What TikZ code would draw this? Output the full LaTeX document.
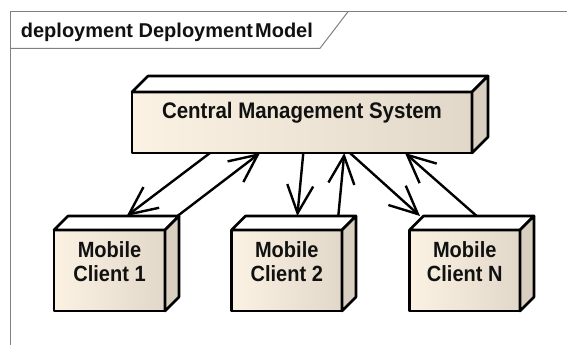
\documentclass[tikz,border=0pt]{standalone}
\usepackage{fontspec}
\setmainfont{Liberation Sans}
\newfontfamily\nodefont[FakeStretch=0.91]{Liberation Sans}
\usetikzlibrary{arrows.meta,calc}
\definecolor{frontL}{HTML}{FBF2E4}
\definecolor{frontM}{HTML}{F5EBDC}
\definecolor{frontR}{HTML}{E2D8C9}
\definecolor{sidecol}{HTML}{D9CFC1}
\definecolor{framecol}{HTML}{808080}
\definecolor{txt}{HTML}{111111}
\begin{document}
\begin{tikzpicture}[x=1pt,y=-1pt,
  face/.style={draw=black, line width=2.6pt, line join=round,
    left color=frontL, middle color=frontM, right color=frontR,
    inner sep=0pt, outer sep=0pt, anchor=north west, text=txt,
    font=\nodefont\bfseries\fontsize{22}{24.4}\selectfont},
  topface/.style={draw=black, line width=2.6pt, line join=round, fill=white},
  sideface/.style={draw=black, line width=2.6pt, line join=round, fill=sidecol},
  conn/.style={draw=black, line width=2.4pt, -{Straight Barb[length=28pt,width=26pt]}},
  framebox/.style={draw=framecol, line width=1pt},
]
\useasboundingbox (0,0) rectangle (567,345);

% frame
\draw[framebox] (10.7,345) -- (10.7,11.7) -- (567,11.7);
\draw[framebox] (10.7,48.3) -- (320,48.3) -- (348,11.7);
\node[anchor=base west, inner sep=0pt, text=txt, font=\bfseries\fontsize{20}{24}\selectfont] (title) at (20.7,37.3) {deployment Deployment\kern2pt Model};

% central node
\node[face, font=\nodefont\bfseries\fontsize{22.5}{24.4}\selectfont] (cms) at (132,92)
  {\parbox[c][61pt][t]{340pt}{\centering\vspace*{10pt}Central Management System}};
\path[topface] (cms.north west) -- ++(16,-16) -- ([shift={(16,-16)}]cms.north east) -- (cms.north east) -- cycle;
\path[sideface] (cms.north east) -- ++(16,-16) -- ([shift={(16,-16)}]cms.south east) -- (cms.south east) -- cycle;

% clients
\node[face] (c1) at (54,230)
  {\parbox[c][81pt][t]{111pt}{\centering\vspace*{11.3pt}Mobile\\Client 1}};
\node[face] (c2) at (231.5,230)
  {\parbox[c][81pt][t]{110.5pt}{\centering\vspace*{11.3pt}Mobile\\Client 2}};
\node[face] (cN) at (409.5,230)
  {\parbox[c][81pt][t]{110.5pt}{\centering\vspace*{11.3pt}Mobile\\Client N}};
\foreach \n in {c1,c2,cN}{
  \path[topface] (\n.north west) -- ++(14,-14) -- ([shift={(14,-14)}]\n.north east) -- (\n.north east) -- cycle;
  \path[sideface] (\n.north east) -- ++(14,-14) -- ([shift={(14,-14)}]\n.south east) -- (\n.south east) -- cycle;
}

% connectors
\draw[conn] ([xshift=78pt]cms.south west) -- ([shift={(72.7,-14)}]c1.north west);
\draw[conn] ([shift={(12.5,-14)}]c1.north east) -- ([xshift=128pt]cms.south west);
\draw[conn] ([xshift=171.3pt]cms.south west) -- ([shift={(65.8,-14)}]c2.north west);
\draw[conn] ([shift={(106.8,-14)}]c2.north west) -- ([xshift=212.3pt]cms.south west);
\draw[conn] ([xshift=218pt]cms.south west) -- ([shift={(10.5,-14)}]cN.north west);
\draw[conn] ([shift={(67.2,-14)}]cN.north west) -- ([xshift=273pt]cms.south west);
\end{tikzpicture}
\end{document}
